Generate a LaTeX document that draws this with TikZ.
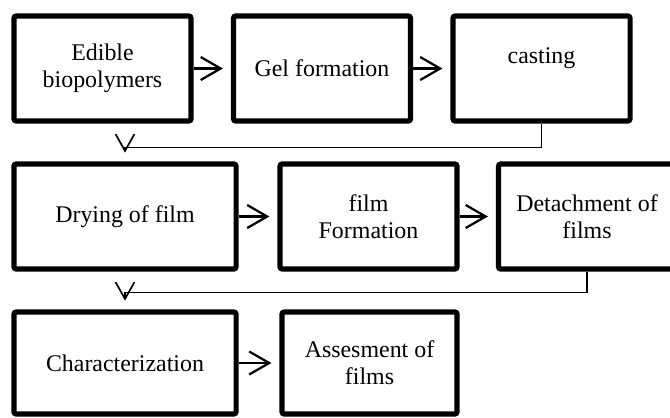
\documentclass[tikz,border=0pt]{standalone}
\usepackage{fontspec}
\setmainfont{Liberation Serif}
\usetikzlibrary{arrows.meta}

\begin{document}
\begin{tikzpicture}[
        x=0.025cm, y=-0.025cm,
        stage/.style={draw, line width=3.6pt, rounded corners=1.5pt, minimum width=4.425cm, minimum height=2.625cm, align=center, inner sep=0pt, font=\fontsize{17}{19}\selectfont},
        wide/.style={minimum width=5.55cm},
        flow/.style={line width=1.6pt, -{Straight Barb[length=0.5cm, width=0.575cm]}, shorten >=0.2cm},
        link/.style={line width=1.2pt, -{Straight Barb[length=0.42cm, width=0.47cm]}, shorten >=0.22cm}
    ]

        % Frame of the picture
        \clip (0, 0) rectangle (670, 417);
        \fill[white] (0, 0) rectangle (670, 417);

        % First row
        \node[stage] (edible) at (102.5, 68.5) {Edible\\biopolymers};
        \node[stage] (gel) at (322, 68.5) {Gel formation};
        \node[stage] (casting) at (541.5, 68.5) {casting\\\mbox{}};

        % Second row
        \node[stage, wide] (drying) at (125, 216.5) {Drying of film};
        \node[stage] (film) at (368.5, 216.5) {film\\Formation};
        \node[stage] (detach) at (587, 216.5) {Detachment of\\films};

        % Third row
        \node[stage, wide, minimum height=2.55cm] (charac) at (125, 363) {Characterization};
        \node[stage, minimum width=4.375cm, minimum height=2.55cm] (assess) at (369.5, 363) {Assesment of\\films};

        % Steps within a row
        \draw[flow] (edible) -- (gel);
        \draw[flow] (gel) -- (casting);
        \draw[flow] (drying) -- (film);
        \draw[flow] (film) -- (detach);
        \draw[flow] (charac) -- (assess);

        % From one row to the next
        \draw[link] (casting.south) -- ++(0, 24) -| (drying.north);
        \draw[link] (detach.south) -- ++(0, 21) -| (charac.north);

    \end{tikzpicture}
\end{document}
